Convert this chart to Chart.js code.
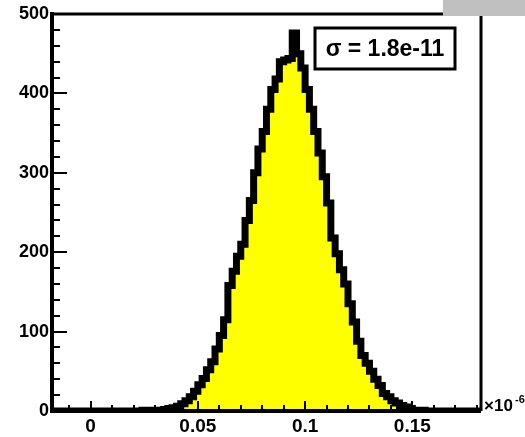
<!DOCTYPE html>
<html>
<head>
<meta charset="utf-8">
<script src="https://cdn.jsdelivr.net/npm/chart.js@4"></script>
<style>
  html, body { margin: 0; padding: 0; background: #fff; }
  #c { display: block; }
</style>
</head>
<body>
<canvas id="c" width="525" height="437"></canvas>
<script>
// histogram: 100 bins from -0.018 to 0.182 (x 1e-6)
const binLo = -0.018;
const binWidth = 0.002;
const counts = [
  0, 0, 0, 0, 0, 0, 0, 0, 0, 0,
  0, 0, 0, 0, 0, 0, 0, 0, 0, 0,
  0, 1, 0, 1, 1, 1, 2, 3, 4, 6,
  9, 13, 18, 25, 33, 41, 52, 62, 78, 95,
  115, 158, 176, 195, 210, 240, 265, 300, 330, 352,
  380, 405, 418, 440, 442, 444, 476, 450, 432, 405,
  380, 352, 325, 295, 262, 218, 198, 178, 160, 135,
  112, 88, 70, 60, 50, 40, 32, 22, 18, 13,
  10, 7, 5, 3, 1, 1, 1, 0, 0, 0,
  0, 0, 0, 0, 0, 0, 0, 0, 0, 0
];
const xTicks = [0, 0.05, 0.1, 0.15];
const yTicks = [0, 100, 200, 300, 400, 500];
const statText = 'σ = 1.8e-11';
const axisExp = '×10';
const axisExpSup = '-6';

// step points at the lower edge of every bin, plus the last upper edge
let points = counts.map((c, i) => ({x: binLo + i * binWidth, y: c}));
points.push({x: binLo + counts.length * binWidth, y: counts[counts.length - 1]});

const FONT = '"Liberation Sans", Arial, sans-serif';

const rootFrame = {
  id: 'rootFrame',
  afterDatasetsDraw(chart) {
    const {ctx, chartArea: a, scales: {x, y}} = chart;
    ctx.save();
    ctx.strokeStyle = '#000';
    // inward ticks, majors and minors
    ctx.lineWidth = 2;
    ctx.beginPath();
    for (let i = -1; i <= 18; i++) {
      const v = i / 100;
      const px = Math.round(x.getPixelForValue(v));
      const len = (i % 5 === 0) ? 10 : 6;
      ctx.moveTo(px, a.bottom);
      ctx.lineTo(px, a.bottom - len);
    }
    for (let v = 0; v <= 500; v += 20) {
      const py = Math.round(y.getPixelForValue(v));
      const len = (v % 100 === 0) ? 15 : 8;
      ctx.moveTo(a.left, py);
      ctx.lineTo(a.left + len, py);
    }
    ctx.stroke();
    // frame
    ctx.lineWidth = 3;
    ctx.beginPath();
    ctx.moveTo(a.left, a.top);
    ctx.lineTo(a.right, a.top);
    ctx.lineTo(a.right, a.bottom);
    ctx.stroke();
    ctx.lineWidth = 4;
    ctx.beginPath();
    ctx.moveTo(a.left, a.top - 2);
    ctx.lineTo(a.left, a.bottom);
    ctx.lineTo(a.right, a.bottom);
    ctx.stroke();

    // stats box
    ctx.fillStyle = '#fff';
    ctx.fillRect(315, 28, 140, 41);
    ctx.lineWidth = 3;
    ctx.strokeRect(315, 28, 140, 41);
    ctx.fillStyle = '#000';
    ctx.font = 'bold 23px ' + FONT;
    ctx.textAlign = 'center';
    ctx.textBaseline = 'middle';
    ctx.fillText(statText, 385, 50);

    // exponent label
    ctx.textAlign = 'left';
    ctx.textBaseline = 'alphabetic';
    ctx.font = 'bold 17px ' + FONT;
    ctx.fillText(axisExp, a.right + 3, a.bottom);
    ctx.font = 'bold 11px ' + FONT;
    ctx.fillText(axisExpSup, a.right + 34, a.bottom - 8);

    // grey corner
    ctx.fillStyle = '#c0c0c0';
    ctx.fillRect(443, 0, 82, 16);
    ctx.restore();
  }
};

const ctx = document.getElementById('c');

new Chart(ctx, {
  type: 'line',
  data: {
    datasets: [{
      data: points,
      stepped: true,
      fill: 'origin',
      backgroundColor: '#ffff00',
      borderColor: '#000000',
      borderWidth: 7,
      pointRadius: 0,
      borderJoinStyle: 'miter',
    }]
  },
  options: {
    responsive: false,
    animation: false,
    layout: {padding: {top: 14, right: 44, left: 0, bottom: 0}},
    plugins: {
      legend: {display: false},
      tooltip: {enabled: false},
    },
    scales: {
      x: {
        type: 'linear',
        min: -0.018,
        max: 0.182,
        afterFit: (s) => { s.height = 26 },
        afterBuildTicks: (s) => { s.ticks = xTicks.map(v => ({value: v})) },
        grid: {display: false, drawTicks: false},
        border: {display: false},
        ticks: {
          padding: 4,
          maxRotation: 0,
          autoSkip: false,
          color: '#000',
          font: {family: FONT, size: 19, weight: 'bold'},
          callback: (v) => String(+v.toFixed(2)),
        }
      },
      y: {
        min: 0,
        max: 500,
        afterFit: (s) => { s.width = 52 },
        afterBuildTicks: (s) => { s.ticks = yTicks.map(v => ({value: v})) },
        grid: {display: false, drawTicks: false},
        border: {display: false},
        ticks: {
          padding: 3,
          color: '#000',
          font: {family: FONT, size: 18, weight: 'bold'},
        }
      }
    }
  },
  plugins: [rootFrame]
});
</script>
</body>
</html>
